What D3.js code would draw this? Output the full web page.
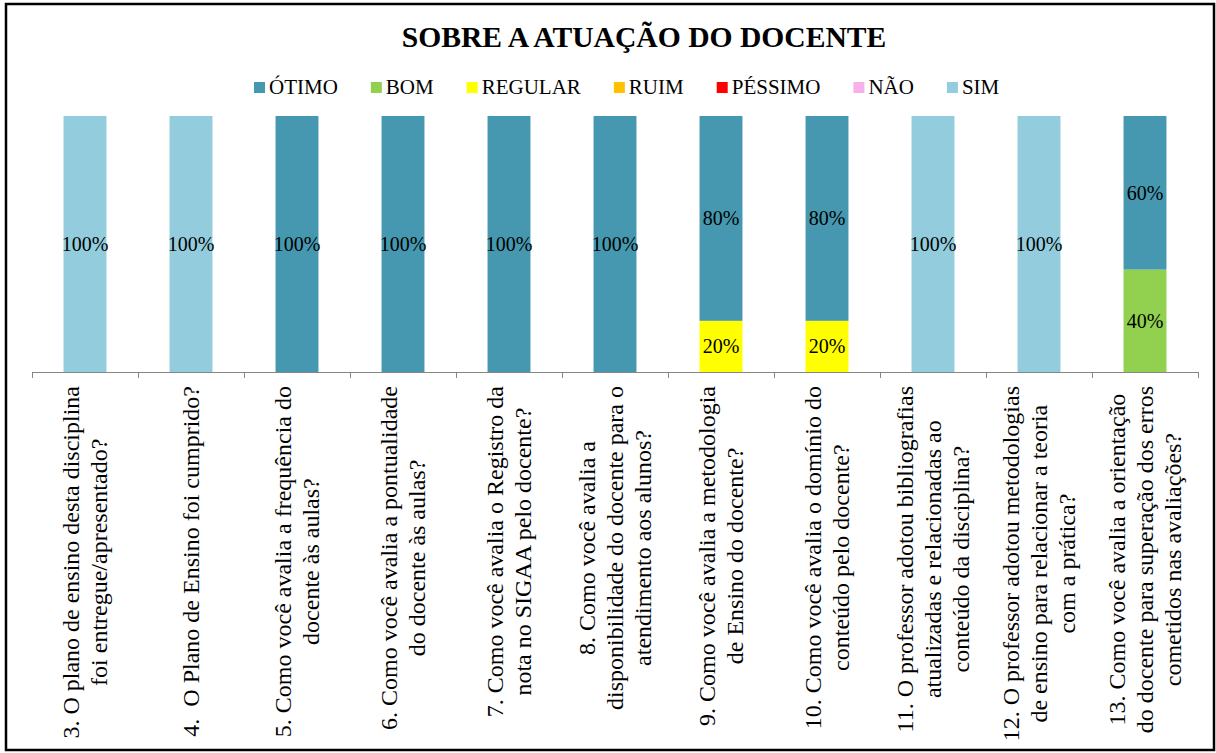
<!DOCTYPE html>
<html>
<head>
<meta charset="utf-8">
<script src="https://cdn.jsdelivr.net/npm/d3@7"></script>
<style>
  html, body { margin: 0; padding: 0; background: #fff; }
  svg { display: block; }
  text { font-family: "Liberation Serif", "Times New Roman", serif; fill: #000; }
</style>
</head>
<body>
<svg id="chart" width="1216" height="753"></svg>
<script>
// ---------- data ----------
const categories = [
  ["3. O plano de ensino desta disciplina", "foi entregue/apresentado?"],
  ["4.  O Plano de Ensino foi cumprido?"],
  ["5. Como você avalia a frequência do", "docente às aulas?"],
  ["6. Como você avalia a pontualidade", "do docente às aulas?"],
  ["7. Como você avalia o Registro da", "nota no SIGAA pelo docente?"],
  ["8. Como você avalia a", "disponibilidade do docente para o", "atendimento aos alunos?"],
  ["9. Como você avalia a metodologia", "de Ensino do docente?"],
  ["10. Como você avalia o domínio do", "conteúdo pelo docente?"],
  ["11. O professor adotou bibliografias", "atualizadas e relacionadas ao", "conteúdo da disciplina?"],
  ["12. O professor adotou metodologias", "de ensino para relacionar a teoria", "com a prática?"],
  ["13. Como você avalia a orientação", "do docente para superação dos erros", "cometidos nas avaliações?"]
];
const seriesNames = ["ÓTIMO", "BOM", "REGULAR", "RUIM", "PÉSSIMO", "NÃO", "SIM"];
const otimo   = [0, 0, 1, 1, 1, 1, 0.8, 0.8, 0, 0, 0.6];
const bom     = [0, 0, 0, 0, 0, 0, 0, 0, 0, 0, 0.4];
const regular = [0, 0, 0, 0, 0, 0, 0.2, 0.2, 0, 0, 0];
const ruim    = [0, 0, 0, 0, 0, 0, 0, 0, 0, 0, 0];
const pessimo = [0, 0, 0, 0, 0, 0, 0, 0, 0, 0, 0];
const nao     = [0, 0, 0, 0, 0, 0, 0, 0, 0, 0, 0];
const sim     = [1, 1, 0, 0, 0, 0, 0, 0, 1, 1, 0];
const seriesColors = ["#4598AF", "#92D050", "#FFFF00", "#FFC000", "#FF0000", "#F7B0EA", "#93CDDD"];
const titleText = "SOBRE A ATUAÇÃO DO DOCENTE";

// ---------- build ----------
const valuesBySeries = { "ÓTIMO": otimo, "BOM": bom, "REGULAR": regular, "RUIM": ruim, "PÉSSIMO": pessimo, "NÃO": nao, "SIM": sim };
const colorOf = d3.scaleOrdinal().domain(seriesNames).range(seriesColors);
const table = categories.map((c, i) => {
  const row = { key: i };
  seriesNames.forEach(s => row[s] = valuesBySeries[s][i]);
  return row;
});
// stack bottom -> top: SIM, NÃO, PÉSSIMO, RUIM, REGULAR, BOM, ÓTIMO
const stackOrder = seriesNames.slice().reverse();
const stacked = d3.stack().keys(stackOrder)(table);

const svg = d3.select("#chart");
const W = 1216, H = 753;
const margin = { left: 32, right: 18, top: 116, bottom: 381 };

const x = d3.scaleBand().domain(d3.range(categories.length)).range([margin.left, W - margin.right]).padding(0);
const y = d3.scaleLinear().domain([0, 1]).range([H - margin.bottom, margin.top]);
const barW = x.bandwidth() * 0.405;

// outer border
svg.append("rect").attr("x", 6).attr("y", 4).attr("width", 1208).attr("height", 746)
  .attr("fill", "#fff").attr("stroke", "#000").attr("stroke-width", 2.5);

// title
svg.append("text").attr("x", 644).attr("y", 47).attr("text-anchor", "middle")
  .attr("font-size", 29.6).attr("font-weight", "bold").text(titleText);

// legend
const legend = svg.append("g").attr("transform", "translate(254,0)");
let lx = 0;
seriesNames.forEach(s => {
  const g = legend.append("g").attr("transform", `translate(${lx},0)`);
  g.append("rect").attr("x", 0).attr("y", 82).attr("width", 11).attr("height", 11).attr("fill", colorOf(s));
  const t = g.append("text").attr("x", 15).attr("y", 94).attr("font-size", 21).text(s);
  lx += 15 + t.node().getComputedTextLength() + 33;
});

// bars
const layers = svg.append("g").selectAll("g").data(stacked).join("g")
  .attr("fill", d => colorOf(d.key));
layers.selectAll("rect").data(d => d.filter(p => p[1] - p[0] > 0)).join("rect")
  .attr("x", d => x(d.data.key) + (x.bandwidth() - barW) / 2)
  .attr("y", d => y(d[1]))
  .attr("width", barW)
  .attr("height", d => y(d[0]) - y(d[1]));

// data labels
const fmt = d3.format(".0%");
const labels = svg.append("g");
stacked.forEach(layer => {
  layer.filter(p => p[1] - p[0] > 0).forEach(p => {
    labels.append("text")
      .attr("x", x(p.data.key) + x.bandwidth() / 2)
      .attr("y", (y(p[0]) + y(p[1])) / 2)
      .attr("dy", "0.35em")
      .attr("text-anchor", "middle")
      .attr("font-size", 20)
      .text(fmt(p[1] - p[0]));
  });
});

// x axis (ticks at category boundaries)
const boundaries = d3.range(categories.length + 1);
const xb = d3.scaleLinear().domain([0, categories.length]).range(x.range());
const axis = svg.append("g").attr("transform", `translate(0,${y(0)})`)
  .call(d3.axisBottom(xb).tickValues(boundaries).tickSize(6).tickSizeOuter(0).tickFormat(""));
axis.select(".domain").attr("stroke", "#868686");
axis.selectAll(".tick line").attr("stroke", "#868686");

// category labels (rotated, multi-line, centred lines)
const lineH = 28;
const labelTop = y(0) + 14;
categories.forEach((lines, i) => {
  const cx = x(i) + x.bandwidth() / 2;
  const g = svg.append("g");
  const t = g.append("text").attr("font-size", 24).attr("text-anchor", "middle").style("white-space", "pre");
  const n = lines.length;
  lines.forEach((ln, j) => {
    t.append("tspan").attr("x", 0).attr("y", (j - (n - 1) / 2) * lineH).attr("dy", "0.35em").text(ln);
  });
  const maxLen = d3.max(t.selectAll("tspan").nodes(), nd => nd.getComputedTextLength());
  g.attr("transform", `translate(${cx},${labelTop + maxLen / 2}) rotate(-90)`);
});
</script>
</body>
</html>
